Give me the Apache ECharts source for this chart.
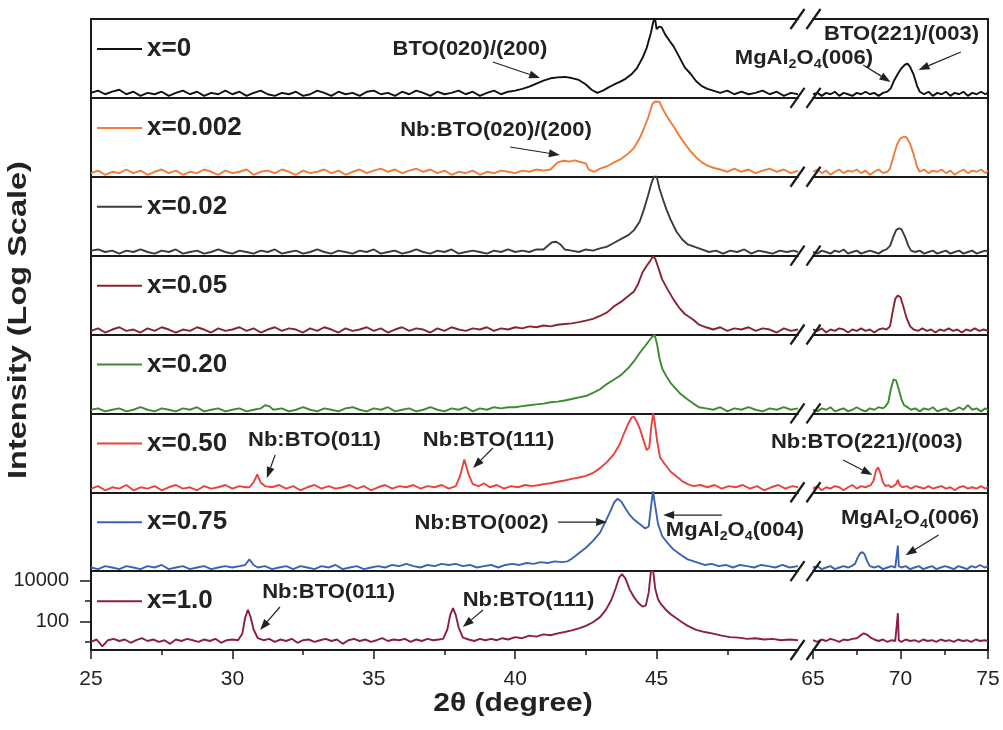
<!DOCTYPE html>
<html>
<head>
<meta charset="utf-8">
<script src="https://cdn.jsdelivr.net/npm/echarts@6/dist/echarts.min.js"></script>
<style>
html, body { margin: 0; padding: 0; background: #fff; }
#xrd { width: 1003px; height: 730px; }
</style>
</head>
<body>
<div id="xrd"></div>
<script>
// sample labels and line colours, top panel first
const names = ["x=0", "x=0.002", "x=0.02", "x=0.05", "x=0.20", "x=0.50", "x=0.75", "x=1.0"];
const colors = ["#111111", "#f07c3a", "#3c3c3c", "#8a2232", "#3d8b2f", "#e8423f", "#3b63b5", "#8b1d4b"];

// axis ticks
const xTicksLeft = [25, 30, 35, 40, 45];
const xTicksRight = [65, 70, 75];
const yTickLabels = [100, 10000];
const yMinorTicks = [10, 1000];
const yMin = 4, yMax = 28000;

// [2theta, counts]
const left0 = [[25,7],[25.25,9],[25.5,6],[25.75,8],[26,10],[26.25,6],[26.5,8],[26.75,5],[27,7],[27.25,6],[27.5,8],[27.75,5],[28,7],[28.25,9],[28.5,6],[28.75,8],[29,5],[29.25,7],[29.5,6],[29.75,9],[30,6],[30.25,8],[30.5,5],[30.75,7],[31,9],[31.25,6],[31.5,5],[31.75,7],[32,6],[32.25,8],[32.5,5],[32.75,6],[33,9],[33.25,7],[33.5,5],[33.75,8],[34,6],[34.25,7],[34.5,5],[34.75,8],[35,9],[35.25,6],[35.5,7],[35.75,5],[36,8],[36.25,6],[36.5,9],[36.75,7],[37,5],[37.25,8],[37.5,6],[37.75,7],[38,9],[38.25,6],[38.5,8],[38.75,5],[39,7],[39.25,9],[39.5,6],[39.75,8],[40,9],[40.25,11],[40.5,14],[40.75,20],[41,28],[41.25,36],[41.5,40],[41.75,42],[42,37],[42.25,30],[42.5,18],[42.7,10],[42.9,7],[43.1,9],[43.3,13],[43.5,18],[43.7,24],[43.9,34],[44.1,55],[44.3,110],[44.5,350],[44.65,1100],[44.8,6000],[44.88,20000],[44.94,32000],[45,9000],[45.1,12000],[45.18,11000],[45.3,5000],[45.45,2500],[45.6,1300],[45.8,400],[46,120],[46.2,60],[46.4,26],[46.6,15],[46.8,11],[47,9],[47.25,7],[47.5,9],[47.75,6],[48,8],[48.25,6],[48.5,7],[48.75,9],[49,6],[49.25,8],[49.5,5],[49.75,7],[50,6]];
const right0 = [[65,6],[65.25,7],[65.5,5],[65.75,7],[66,6],[66.25,8],[66.5,5],[66.75,7],[67,6],[67.25,5],[67.5,7],[67.75,6],[68,8],[68.25,6],[68.5,7],[68.75,5],[69,7],[69.25,8],[69.45,12],[69.65,30],[69.85,60],[70.05,110],[70.25,165],[70.4,185],[70.55,130],[70.75,55],[70.95,15],[71.1,8],[71.35,6],[71.6,8],[71.85,5],[72.1,7],[72.35,6],[72.6,8],[72.85,5],[73.1,7],[73.35,6],[73.6,8],[73.85,5],[74.1,7],[74.35,6],[74.6,8],[74.85,6],[75,7]];

const left1 = [[25,6],[25.25,8],[25.5,5],[25.75,7],[26,6],[26.25,9],[26.5,6],[26.75,8],[27,5],[27.25,7],[27.5,9],[27.75,6],[28,8],[28.25,5],[28.5,7],[28.75,6],[29,9],[29.25,7],[29.5,5],[29.75,8],[30,6],[30.25,7],[30.5,9],[30.75,5],[31,7],[31.25,8],[31.5,6],[31.75,9],[32,7],[32.25,5],[32.5,8],[32.75,6],[33,7],[33.25,9],[33.5,6],[33.75,8],[34,5],[34.25,7],[34.5,9],[34.75,6],[35,8],[35.25,10],[35.5,7],[35.75,9],[36,6],[36.25,8],[36.5,10],[36.75,7],[37,9],[37.25,6],[37.5,8],[37.75,5],[38,7],[38.25,6],[38.5,8],[38.75,5],[39,7],[39.25,6],[39.5,8],[39.75,7],[40,6],[40.25,8],[40.5,7],[40.75,9],[41,8],[41.25,9],[41.5,20],[41.7,24],[41.9,22],[42.1,25],[42.3,21],[42.5,18],[42.6,9],[42.8,7],[43,10],[43.25,13],[43.5,20],[43.75,30],[44,55],[44.2,100],[44.4,300],[44.55,900],[44.7,3000],[44.85,14000],[44.95,18500],[45.1,18000],[45.2,9000],[45.35,3800],[45.5,1800],[45.65,900],[45.8,400],[46,160],[46.2,70],[46.4,35],[46.6,20],[46.8,14],[47,11],[47.25,9],[47.5,7],[47.75,10],[48,7],[48.25,9],[48.5,6],[48.75,8],[49,10],[49.25,7],[49.5,9],[49.75,6],[50,8]];
const right1 = [[65,7],[65.25,9],[65.5,6],[65.75,8],[66,5],[66.25,7],[66.5,9],[66.75,6],[67,8],[67.25,7],[67.5,9],[67.75,6],[68,8],[68.25,5],[68.5,7],[68.75,9],[69,6],[69.25,7],[69.4,10],[69.6,40],[69.8,150],[70,300],[70.2,360],[70.35,330],[70.55,160],[70.75,50],[70.95,12],[71.1,7],[71.35,9],[71.6,6],[71.85,8],[72.1,7],[72.35,9],[72.6,6],[72.85,8],[73.1,5],[73.35,7],[73.6,9],[73.85,6],[74.1,8],[74.35,7],[74.6,9],[74.85,6],[75,8]];

const left2 = [[25,7],[25.25,8],[25.5,6],[25.75,7],[26,5],[26.25,7],[26.5,6],[26.75,8],[27,6],[27.25,5],[27.5,7],[27.75,6],[28,8],[28.25,5],[28.5,6],[28.75,7],[29,5],[29.25,6],[29.5,8],[29.75,6],[30,5],[30.25,7],[30.5,6],[30.75,5],[31,7],[31.25,6],[31.5,8],[31.75,5],[32,6],[32.25,7],[32.5,5],[32.75,6],[33,8],[33.25,6],[33.5,5],[33.75,7],[34,6],[34.25,5],[34.5,7],[34.75,6],[35,8],[35.25,5],[35.5,6],[35.75,7],[36,5],[36.25,6],[36.5,8],[36.75,6],[37,5],[37.25,7],[37.5,6],[37.75,8],[38,5],[38.25,6],[38.5,7],[38.75,6],[39,5],[39.25,7],[39.5,6],[39.75,8],[40,6],[40.25,7],[40.5,6],[40.75,8],[41,8],[41.15,12],[41.3,18],[41.45,19],[41.6,14],[41.75,8],[42,7],[42.25,6],[42.5,8],[42.75,7],[43,9],[43.25,11],[43.5,17],[43.75,26],[44,40],[44.2,70],[44.4,180],[44.55,700],[44.7,3500],[44.82,14000],[44.92,32000],[45,30000],[45.1,7500],[45.2,2800],[45.35,700],[45.5,220],[45.7,60],[45.9,25],[46.1,14],[46.4,10],[46.6,8],[46.85,6],[47.1,7],[47.35,5],[47.6,7],[47.85,6],[48.1,8],[48.35,5],[48.6,7],[48.85,6],[49.1,5],[49.35,7],[49.6,6],[49.85,7],[50,6]];
const right2 = [[65,6],[65.25,5],[65.5,7],[65.75,6],[66,5],[66.25,7],[66.5,6],[66.75,8],[67,5],[67.25,6],[67.5,7],[67.75,5],[68,6],[68.25,7],[68.5,6],[68.75,5],[69,7],[69.2,8],[69.4,12],[69.6,35],[69.75,70],[69.9,85],[70.05,78],[70.25,35],[70.45,12],[70.6,7],[70.85,6],[71.1,7],[71.35,5],[71.6,6],[71.85,7],[72.1,5],[72.35,6],[72.6,7],[72.85,5],[73.1,6],[73.35,7],[73.6,5],[73.85,6],[74.1,7],[74.35,5],[74.6,6],[74.85,7],[75,6]];

const left3 = [[25,6],[25.25,8],[25.5,5],[25.75,7],[26,9],[26.25,6],[26.5,7],[26.75,5],[27,8],[27.25,6],[27.5,9],[27.75,7],[28,5],[28.25,7],[28.5,6],[28.75,9],[29,7],[29.25,5],[29.5,8],[29.75,6],[30,7],[30.25,9],[30.5,6],[30.75,8],[31,5],[31.25,7],[31.5,9],[31.75,6],[32,8],[32.25,7],[32.5,5],[32.75,8],[33,6],[33.25,9],[33.5,7],[33.75,5],[34,8],[34.25,6],[34.5,7],[34.75,9],[35,6],[35.25,8],[35.5,5],[35.75,7],[36,9],[36.25,6],[36.5,8],[36.75,7],[37,5],[37.25,8],[37.5,6],[37.75,9],[38,7],[38.25,6],[38.5,8],[38.75,7],[39,9],[39.25,6],[39.5,8],[39.75,7],[40,9],[40.25,8],[40.5,10],[40.75,9],[41,11],[41.25,10],[41.5,12],[41.75,13],[42,14],[42.25,16],[42.5,19],[42.75,23],[43,32],[43.25,48],[43.5,95],[43.75,160],[44,300],[44.2,500],[44.35,1200],[44.5,4200],[44.65,9000],[44.78,16000],[44.87,26000],[44.95,20000],[45.05,8000],[45.2,1900],[45.4,600],[45.6,200],[45.8,80],[46,40],[46.3,21],[46.5,12],[46.75,9],[47,7],[47.25,9],[47.5,6],[47.75,8],[48,7],[48.25,9],[48.5,6],[48.75,8],[49,7],[49.25,5],[49.5,8],[49.75,6],[50,7]];
const right3 = [[65,7],[65.25,6],[65.5,8],[65.75,5],[66,7],[66.25,6],[66.5,8],[66.75,7],[67,5],[67.25,7],[67.5,6],[67.75,8],[68,6],[68.25,7],[68.5,5],[68.75,7],[69,8],[69.2,7],[69.4,10],[69.55,50],[69.7,220],[69.85,320],[70,260],[70.15,100],[70.35,25],[70.55,10],[70.75,7],[71,6],[71.25,8],[71.5,6],[71.75,7],[72,5],[72.25,7],[72.5,6],[72.75,8],[73,6],[73.25,7],[73.5,5],[73.75,7],[74,6],[74.25,8],[74.5,6],[74.75,7],[75,6]];

const left4 = [[25,6],[25.25,7],[25.5,5],[25.75,6],[26,7],[26.25,5],[26.5,6],[26.75,8],[27,6],[27.25,5],[27.5,7],[27.75,6],[28,5],[28.25,7],[28.5,6],[28.75,8],[29,5],[29.25,6],[29.5,7],[29.75,5],[30,6],[30.25,7],[30.5,5],[30.75,6],[31,7],[31.15,10],[31.3,9],[31.45,6],[31.75,7],[32,5],[32.25,6],[32.5,8],[32.75,6],[33,5],[33.25,7],[33.5,6],[33.75,5],[34,7],[34.25,8],[34.5,6],[34.75,5],[35,7],[35.25,6],[35.5,8],[35.75,5],[36,6],[36.25,7],[36.5,5],[36.75,6],[37,8],[37.25,6],[37.5,5],[37.75,7],[38,6],[38.25,8],[38.5,5],[38.75,7],[39,6],[39.25,8],[39.5,7],[39.75,8],[40,8],[40.25,9],[40.5,10],[40.75,11],[41,12],[41.25,14],[41.5,15],[41.75,17],[42,20],[42.25,24],[42.5,28],[42.75,40],[43,60],[43.25,110],[43.5,180],[43.75,300],[44,650],[44.2,1400],[44.4,3500],[44.55,6500],[44.7,12000],[44.82,20000],[44.93,27000],[45.02,9000],[45.1,2000],[45.2,600],[45.35,250],[45.5,120],[45.65,70],[45.85,35],[46.1,19],[46.3,12],[46.5,8],[46.75,7],[47,6],[47.25,8],[47.5,5],[47.75,7],[48,6],[48.25,8],[48.5,6],[48.75,5],[49,7],[49.25,6],[49.5,8],[49.75,6],[50,7]];
const right4 = [[65,6],[65.25,5],[65.5,7],[65.75,6],[66,8],[66.25,5],[66.5,6],[66.75,7],[67,5],[67.25,6],[67.5,8],[67.75,6],[68,5],[68.25,7],[68.5,6],[68.75,8],[69,7],[69.15,9],[69.3,14],[69.45,60],[69.6,180],[69.75,160],[69.9,60],[70.05,20],[70.2,10],[70.4,8],[70.6,6],[70.85,7],[71.1,5],[71.35,7],[71.6,6],[71.85,8],[72.1,5],[72.35,6],[72.6,7],[72.85,5],[73.1,6],[73.35,8],[73.6,6],[73.85,10],[74.1,6],[74.35,7],[74.6,5],[74.85,7],[75,6]];

const left5 = [[25,6],[25.25,8],[25.5,5],[25.75,7],[26,6],[26.25,9],[26.5,5],[26.75,7],[27,6],[27.25,8],[27.5,5],[27.75,7],[28,9],[28.25,6],[28.5,7],[28.75,5],[29,8],[29.25,6],[29.5,7],[29.75,9],[30,6],[30.25,8],[30.45,7],[30.6,7],[30.75,12],[30.88,30],[31,12],[31.15,8],[31.4,7],[31.65,9],[31.9,6],[32.15,8],[32.4,5],[32.65,7],[32.9,9],[33.15,6],[33.4,8],[33.65,6],[33.9,7],[34.15,9],[34.4,6],[34.65,8],[34.9,5],[35.15,7],[35.4,9],[35.65,6],[35.9,8],[36.15,7],[36.4,9],[36.65,6],[36.9,8],[37.15,7],[37.4,9],[37.65,6],[37.9,8],[38.05,25],[38.2,160],[38.35,30],[38.5,10],[38.7,8],[38.9,11],[39.1,7],[39.35,9],[39.6,6],[39.85,8],[40.1,7],[40.35,9],[40.6,8],[40.85,9],[41,10],[41.25,11],[41.5,13],[41.75,15],[42,18],[42.25,21],[42.5,25],[42.75,35],[43,60],[43.25,120],[43.5,300],[43.7,900],[43.85,3000],[44,9000],[44.12,18000],[44.2,19000],[44.3,11000],[44.42,4500],[44.55,1200],[44.65,450],[44.74,600],[44.82,8000],[44.88,28000],[44.94,9000],[45.02,1200],[45.12,200],[45.3,90],[45.5,40],[45.7,24],[45.9,14],[46.1,10],[46.3,8],[46.55,9],[46.8,7],[47.05,9],[47.3,6],[47.55,8],[47.8,7],[48.05,9],[48.3,6],[48.55,8],[48.8,5],[49.05,7],[49.3,9],[49.55,6],[49.8,8],[50,7]];
const right5 = [[65,6],[65.25,8],[65.5,5],[65.75,7],[66,6],[66.25,8],[66.5,7],[66.75,5],[67,7],[67.25,9],[67.5,6],[67.75,8],[68,7],[68.15,8],[68.3,9],[68.45,14],[68.6,45],[68.72,66],[68.85,35],[69,12],[69.15,8],[69.3,9],[69.45,7],[69.6,8],[69.75,10],[69.85,16],[69.95,9],[70.1,7],[70.35,8],[70.6,6],[70.85,8],[71.1,7],[71.35,6],[71.6,8],[71.85,6],[72.1,7],[72.35,8],[72.6,6],[72.85,7],[73.1,5],[73.35,7],[73.6,8],[73.85,6],[74.1,7],[74.35,6],[74.6,8],[74.85,6],[75,7]];

const left6 = [[25,6],[25.25,5],[25.5,7],[25.75,6],[26,5],[26.25,7],[26.5,6],[26.75,5],[27,7],[27.25,6],[27.5,8],[27.75,5],[28,6],[28.25,7],[28.5,5],[28.75,6],[29,7],[29.25,5],[29.5,6],[29.75,7],[30,6],[30.25,7],[30.45,8],[30.6,15],[30.75,8],[30.9,6],[31.15,7],[31.4,5],[31.65,6],[31.9,7],[32.15,5],[32.4,7],[32.65,6],[32.9,5],[33.15,7],[33.4,6],[33.65,8],[33.9,5],[34.15,6],[34.4,7],[34.65,5],[34.9,6],[35.15,7],[35.4,6],[35.65,8],[35.9,7],[36.15,9],[36.4,7],[36.65,6],[36.9,8],[37.15,7],[37.4,9],[37.65,8],[37.9,9],[38.15,7],[38.4,8],[38.65,6],[38.9,7],[39.15,8],[39.4,6],[39.65,8],[39.9,9],[40.15,8],[40.4,10],[40.65,9],[40.9,11],[41.15,10],[41.4,12],[41.65,11],[41.85,12],[42,16],[42.25,30],[42.5,55],[42.75,120],[43,300],[43.2,1100],[43.35,3000],[43.5,9000],[43.62,13500],[43.75,10000],[43.9,4500],[44.05,2200],[44.2,1300],[44.4,800],[44.6,480],[44.72,600],[44.8,5000],[44.87,32000],[44.95,6000],[45.05,800],[45.2,200],[45.4,90],[45.6,45],[45.85,25],[46.1,15],[46.4,11],[46.7,8],[46.95,9],[47.2,7],[47.45,8],[47.7,6],[47.95,8],[48.2,7],[48.45,6],[48.7,8],[48.95,7],[49.2,6],[49.45,8],[49.7,6],[50,7]];
const right6 = [[65,6],[65.25,7],[65.5,5],[65.75,6],[66,7],[66.25,5],[66.5,6],[66.75,7],[67,6],[67.2,7],[67.4,9],[67.55,18],[67.7,30],[67.82,34],[67.95,26],[68.1,12],[68.25,7],[68.5,6],[68.75,7],[69,5],[69.25,6],[69.5,7],[69.7,6],[69.8,7],[69.85,70],[69.9,7],[70.05,6],[70.3,7],[70.55,5],[70.8,6],[71.05,7],[71.3,5],[71.55,6],[71.8,7],[72.05,5],[72.3,6],[72.55,7],[72.8,6],[73.05,5],[73.3,7],[73.55,6],[73.8,5],[74.05,7],[74.3,6],[74.55,8],[74.8,6],[75,7]];

const left7 = [[25,10],[25.2,13],[25.4,6],[25.6,12],[25.8,14],[26,11],[26.2,13],[26.4,9],[26.6,12],[26.8,15],[27,11],[27.2,13],[27.4,10],[27.6,12],[27.8,8],[28,13],[28.2,11],[28.4,14],[28.6,12],[28.8,10],[29,13],[29.2,11],[29.4,14],[29.6,9],[29.8,12],[30,13],[30.2,12],[30.35,25],[30.45,150],[30.55,360],[30.65,150],[30.75,40],[30.9,15],[31.1,12],[31.3,14],[31.5,10],[31.7,13],[31.9,11],[32.1,14],[32.3,9],[32.5,12],[32.7,13],[32.9,10],[33.1,12],[33.3,14],[33.5,11],[33.7,13],[33.9,8],[34.1,12],[34.3,14],[34.5,11],[34.7,13],[34.9,10],[35.1,12],[35.3,15],[35.5,11],[35.7,13],[35.9,12],[36.1,14],[36.3,10],[36.5,13],[36.7,11],[36.9,14],[37.1,12],[37.3,13],[37.45,14],[37.6,40],[37.7,200],[37.8,440],[37.9,200],[38,50],[38.15,16],[38.35,13],[38.55,11],[38.75,14],[38.95,12],[39.15,14],[39.35,12],[39.55,15],[39.75,13],[40,17],[40.25,15],[40.5,20],[40.75,18],[41,23],[41.25,21],[41.5,26],[41.75,30],[42,36],[42.25,45],[42.5,60],[42.75,90],[43,160],[43.2,350],[43.4,1100],[43.55,4000],[43.68,14000],[43.78,20000],[43.9,12000],[44.05,3500],[44.2,1500],[44.35,800],[44.5,520],[44.62,600],[44.72,2500],[44.8,28000],[44.88,28000],[44.95,4000],[45.05,1200],[45.15,700],[45.3,400],[45.5,220],[45.7,140],[45.9,90],[46.1,60],[46.4,38],[46.7,30],[47,25],[47.3,20],[47.6,17],[47.9,16],[48.2,14],[48.5,15],[48.8,13],[49.1,14],[49.4,12],[49.7,13],[50,12]];
const right7 = [[65,12],[65.25,10],[65.5,13],[65.75,11],[66,14],[66.25,12],[66.5,10],[66.75,13],[67,12],[67.25,14],[67.5,15],[67.7,20],[67.9,26],[68.1,22],[68.3,16],[68.5,13],[68.75,11],[69,13],[69.25,10],[69.5,12],[69.7,11],[69.8,12],[69.85,250],[69.9,12],[70.05,10],[70.3,13],[70.55,11],[70.8,12],[71.05,10],[71.3,13],[71.55,11],[71.8,12],[72.05,10],[72.3,13],[72.55,11],[72.8,12],[73.05,10],[73.3,13],[73.55,11],[73.8,12],[74.05,10],[74.3,13],[74.55,11],[74.8,12],[75,11]];

// peak labels: text centre and arrow ends in [2theta, counts] of their panel
const annotations = [
  { panel: 0, side: "L", text: "BTO(020)/(200)", at: [38.4, 865], from: [39.21, 225], to: [40.88, 37] },
  { panel: 0, side: "R", text: "BTO(221)/(003)", at: [70.06, 4660], from: [73.45, 690], to: [71.03, 92] },
  { panel: 0, side: "R", text: "MgAl{s|2}O{s|4}(006)", at: [64.48, 352], from: [67.87, 160], to: [69.43, 24] },
  { panel: 1, side: "L", text: "Nb:BTO(020)/(200)", at: [39.32, 760], from: [39.82, 113], to: [41.58, 46] },
  { panel: 5, side: "L", text: "Nb:BTO(011)", at: [32.9, 1410], from: [31.51, 262], to: [31.22, 20] },
  { panel: 5, side: "L", text: "Nb:BTO(111)", at: [39.06, 1410], from: [39.21, 574], to: [38.51, 61] },
  { panel: 5, side: "R", text: "Nb:BTO(221)/(003)", at: [68.07, 1127], from: [66.72, 149], to: [68.39, 28] },
  { panel: 6, side: "L", text: "Nb:BTO(002)", at: [38.81, 885], from: [41.51, 990], to: [43.25, 990] },
  { panel: 6, side: "L", text: "MgAl{s|2}O{s|4}(004)", at: [47.77, 403], from: [47.31, 2170], to: [45.23, 2170] },
  { panel: 6, side: "R", text: "MgAl{s|2}O{s|4}(006)", at: [70.55, 1550], from: [72.18, 230], to: [70.29, 24] },
  { panel: 7, side: "L", text: "Nb:BTO(011)", at: [33.4, 2690], from: [31.68, 500], to: [30.98, 38] },
  { panel: 7, side: "L", text: "Nb:BTO(111)", at: [40.47, 1095], from: [38.86, 357], to: [38.15, 53] }
];

const leftData = [left0, left1, left2, left3, left4, left5, left6, left7];
const rightData = [right0, right1, right2, right3, right4, right5, right6, right7];

const plot = { left: 91, right: 988, top: 19, bottom: 650, leftEnd: 798, rightStart: 813 };
const panelH = (plot.bottom - plot.top) / names.length;
const ink = "#1a1a1a";
const font = "Liberation Sans";

const grids = [], xAxes = [], yAxes = [], series = [], legends = [];
names.forEach((name, i) => {
  const top = plot.top + i * panelH;
  const last = i === names.length - 1;
  grids.push({ left: plot.left, top: top, width: plot.leftEnd - plot.left, height: panelH });
  grids.push({ left: plot.rightStart, top: top, width: plot.right - plot.rightStart, height: panelH });

  [[25, 50, xTicksLeft, leftData[i]], [65, 75, xTicksRight, rightData[i]]].forEach(([min, max, ticks, data], s) => {
    const idx = 2 * i + s;
    xAxes.push({
      type: "value", gridIndex: idx, min: min, max: max, interval: 5,
      axisLine: { show: true, onZero: false, lineStyle: { color: ink, width: 2 } },
      splitLine: { show: false },
      axisTick: { show: last, customValues: ticks, length: 9, lineStyle: { color: ink, width: 1.5 } },
      minorTick: { show: last, splitNumber: 2, length: 5, lineStyle: { color: ink, width: 1.5 } },
      axisLabel: { show: last, customValues: ticks, margin: 19, fontSize: 21, color: "#222", fontFamily: font }
    });
    yAxes.push({
      type: "log", gridIndex: idx, min: yMin, max: yMax, position: s ? "right" : "left",
      axisLine: { show: true, onZero: false, lineStyle: { color: ink, width: 2 } },
      splitLine: { show: false },
      axisTick: { show: last && s === 0, customValues: yTickLabels, length: 11, lineStyle: { color: ink, width: 1.5 } },
      axisLabel: {
        show: last && s === 0, customValues: yTickLabels, margin: 22, fontSize: 20, color: "#222", fontFamily: font,
        formatter: (v) => String(v)
      }
    });
    series.push({
      type: "line", name: name, xAxisIndex: idx, yAxisIndex: idx, data: data,
      symbol: "none", showSymbol: false, clip: true,
      lineStyle: { color: colors[i], width: 1.9 }, itemStyle: { color: colors[i] }
    });
  });

  legends.push({
    data: [{ name: name, icon: "rect" }], left: plot.left + 6, top: top + 17, padding: 0, selectedMode: false,
    itemWidth: 45, itemHeight: 2,
    textStyle: { fontSize: 26, fontWeight: "bold", color: "#222", fontFamily: font }
  });
});

// frame top and short y ticks of the bottom panel
xAxes.push({ type: "value", gridIndex: 0, min: 25, max: 50, position: "top", axisLine: { show: true, onZero: false, lineStyle: { color: ink, width: 2 } }, axisTick: { show: false }, axisLabel: { show: false }, splitLine: { show: false } });
xAxes.push({ type: "value", gridIndex: 1, min: 65, max: 75, position: "top", axisLine: { show: true, onZero: false, lineStyle: { color: ink, width: 2 } }, axisTick: { show: false }, axisLabel: { show: false }, splitLine: { show: false } });
yAxes.push({
  type: "log", gridIndex: 14, min: yMin, max: yMax, position: "left",
  axisLine: { show: false }, splitLine: { show: false }, axisLabel: { show: false },
  axisTick: { show: true, customValues: yMinorTicks, length: 6, lineStyle: { color: ink, width: 1.5 } }
});

const chart = echarts.init(document.getElementById("xrd"));
chart.setOption({
  animation: false,
  backgroundColor: "#fff",
  grid: grids,
  xAxis: xAxes,
  yAxis: yAxes,
  legend: legends,
  series: series
});

// annotations, break marks and axis titles
const gfx = [];
const textStyle = { fontSize: 20, fontWeight: "bold", fontFamily: font, fill: "#222", align: "center", verticalAlign: "middle", lineHeight: 26,
  rich: { s: { fontSize: 13, fontWeight: "bold", fontFamily: font, fill: "#222", verticalAlign: "bottom", lineHeight: 12 } } };
annotations.forEach((a) => {
  const k = 2 * a.panel + (a.side === "R" ? 1 : 0);
  const finder = { xAxisIndex: k, yAxisIndex: k };
  const at = chart.convertToPixel(finder, a.at);
  const p0 = chart.convertToPixel(finder, a.from);
  const p1 = chart.convertToPixel(finder, a.to);
  gfx.push({ type: "text", x: at[0], y: at[1], scaleX: 1.1, z: 10, style: Object.assign({ text: a.text }, textStyle) });
  const ang = Math.atan2(p1[1] - p0[1], p1[0] - p0[0]);
  const len = 11, half = 4;
  const bx = p1[0] - len * Math.cos(ang), by = p1[1] - len * Math.sin(ang);
  gfx.push({ type: "line", z: 10, shape: { x1: p0[0], y1: p0[1], x2: bx, y2: by }, style: { stroke: "#222", lineWidth: 1.2 } });
  gfx.push({
    type: "polygon", z: 10,
    shape: { points: [p1, [bx + half * Math.sin(ang), by - half * Math.cos(ang)], [bx - half * Math.sin(ang), by + half * Math.cos(ang)]] },
    style: { fill: "#222" }
  });
});

const midGap = (plot.leftEnd + plot.rightStart) / 2;
for (let k = 0; k <= names.length; k++) {
  const y = plot.top + k * panelH;
  [-8, 8].forEach((dx) => {
    gfx.push({ type: "line", z: 20, shape: { x1: midGap + dx - 7, y1: y + 10, x2: midGap + dx + 7, y2: y - 10 }, style: { stroke: ink, lineWidth: 2.2 } });
  });
}

gfx.push({
  type: "text", x: 19, y: 320, rotation: Math.PI / 2, scaleX: 1.3,
  style: { text: "Intensity (Log Scale)", fontSize: 25, fontWeight: "bold", fontFamily: font, fill: "#222", align: "center", verticalAlign: "middle" }
});
gfx.push({
  type: "text", x: 513, y: 704, scaleX: 1.2,
  style: { text: "2θ (degree)", fontSize: 25, fontWeight: "bold", fontFamily: font, fill: "#222", align: "center", verticalAlign: "middle" }
});

chart.setOption({ graphic: gfx });
</script>
</body>
</html>
